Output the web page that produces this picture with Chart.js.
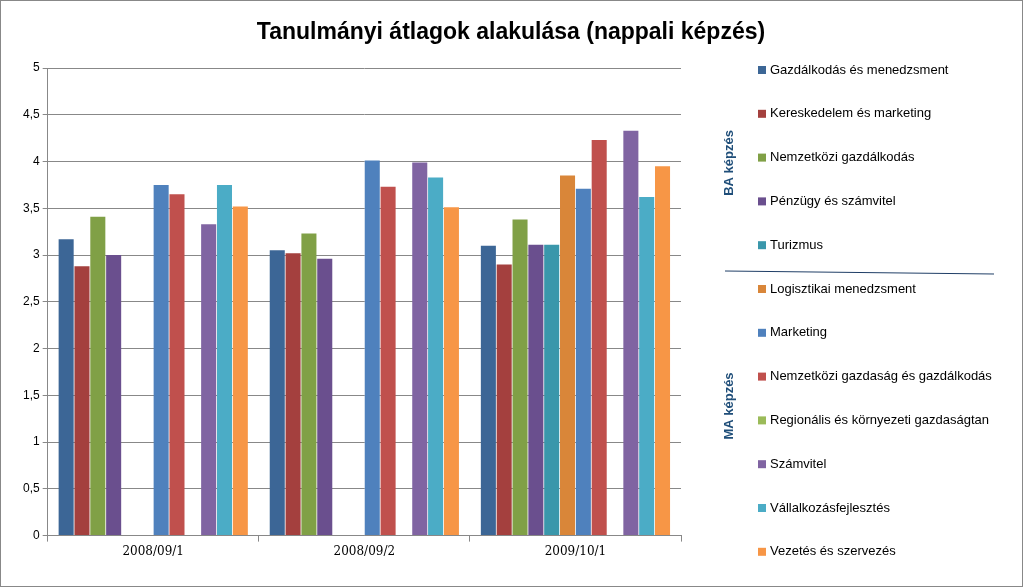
<!DOCTYPE html>
<html><head><meta charset="utf-8">
<script src="https://cdn.jsdelivr.net/npm/chart.js@4"></script>
<style>html,body{margin:0;padding:0;background:#fff}#w{width:1021px;height:585px;border:1px solid #888;position:relative}</style>
</head><body><div id="w"><canvas id="c"></canvas></div>
<script>
const categories = ['2008/09/1','2008/09/2','2009/10/1'];
const seriesNames = ['Gazdálkodás és menedzsment','Kereskedelem és marketing','Nemzetközi gazdálkodás','Pénzügy és számvitel','Turizmus','Logisztikai menedzsment','Marketing','Nemzetközi gazdaság és gazdálkodás','Regionális és környezeti gazdaságtan','Számvitel','Vállalkozásfejlesztés','Vezetés és szervezés'];
const s1 = [3.17,3.05,3.10];
const s2 = [2.88,3.02,2.90];
const s3 = [3.41,3.23,3.38];
const s4 = [3.00,2.96,3.11];
const s5 = [null,null,3.11];
const s6 = [null,null,3.85];
const s7 = [3.75,4.01,3.71];
const s8 = [3.65,3.73,4.23];
const s9 = [null,null,null];
const s10 = [3.33,3.99,4.33];
const s11 = [3.75,3.83,3.62];
const s12 = [3.52,3.51,3.95];
const yTicks = [0,0.5,1,1.5,2,2.5,3,3.5,4,4.5,5];
const title = 'Tanulmányi átlagok alakulása (nappali képzés)';
const values=[s1,s2,s3,s4,s5,s6,s7,s8,s9,s10,s11,s12];
const colors=['#3C6696','#A4403E','#80A046','#6A4F8E','#3A97AB','#D98639','#4F81BD','#C0504D','#9BBB59','#8064A2','#4BACC6','#F79646'];
const legendPlugin={id:'lg',afterDraw(ch){const c=ch.ctx;c.save();
 c.font='bold 23px "Liberation Sans", Arial';c.fillStyle='#000';c.textAlign='center';c.textBaseline='middle';
 c.fillText(title,510,32);c.textAlign='left';
 c.font='13px "Liberation Sans", Arial';
 ch.data.datasets.forEach((d,i)=>{const y=69+i*43.8;c.fillStyle=d.backgroundColor;c.fillRect(757,y-4,8,8);c.fillStyle='#000';c.fillText(d.label,769,y);});
 c.strokeStyle='#1F3E66';c.lineWidth=1;c.beginPath();c.moveTo(724,270);c.lineTo(993,273);c.stroke();
 c.fillStyle='#1F4E79';c.font='bold 13px "Liberation Sans", Arial';c.textAlign='center';
 c.translate(728,162);c.rotate(-Math.PI/2);c.fillText('BA képzés',0,0);c.rotate(Math.PI/2);c.translate(-728,-162);
 c.translate(728,405);c.rotate(-Math.PI/2);c.fillText('MA képzés',0,0);
 c.restore();}};
new Chart(document.getElementById('c'),{type:'bar',
 data:{labels:categories,datasets:values.map((v,i)=>({label:seriesNames[i],data:v,backgroundColor:colors[i],borderWidth:0}))},
 options:{responsive:true,maintainAspectRatio:false,animation:false,
  categoryPercentage:0.9,barPercentage:0.95,
  layout:{padding:{left:19,right:341,top:67,bottom:24}},
  plugins:{legend:{display:false},tooltip:{enabled:false},title:{display:false}},
  scales:{x:{grid:{display:true,offset:true,drawOnChartArea:false,color:'#888',tickLength:6},border:{color:'#888'},ticks:{color:'#000',font:{size:12,family:'"DejaVu Serif", serif'}}},
   y:{min:0,max:5,afterBuildTicks:a=>{a.ticks=yTicks.map(v=>({value:v}));},
    grid:{color:'#888',tickLength:5},border:{color:'#888'},
    ticks:{color:'#000',font:{size:12,family:'"Liberation Sans", Arial'},callback:v=>String(v).replace('.',',')}}}},
 plugins:[legendPlugin]});
</script></body></html>
